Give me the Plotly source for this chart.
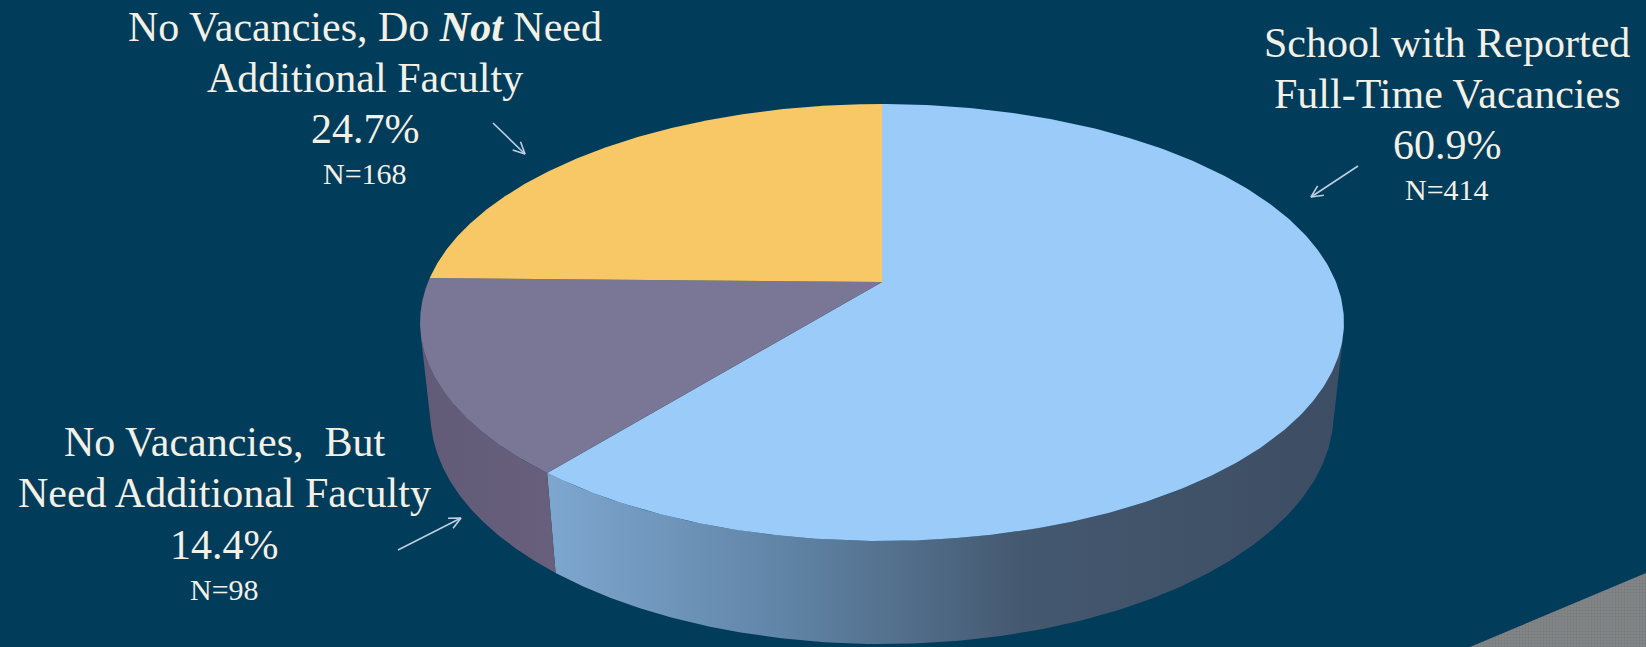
import numpy as np
import plotly.graph_objects as go

# ---------------- data ----------------
categories = [
    "School with Reported Full-Time Vacancies",
    "No Vacancies, But Need Additional Faculty",
    "No Vacancies, Do Not Need Additional Faculty",
]
counts = [414, 98, 168]
label_lines = [
    ["School with Reported", "Full-Time Vacancies"],
    ["No Vacancies,&nbsp; But", "Need Additional Faculty"],
    ["No Vacancies, Do <b><i>Not</i></b> Need", "Additional Faculty"],
]

# ---------------- style ----------------
BG = "#013C5A"
TOP_COLORS = ["#9BCBF9", "#7A7696", "#F9C866"]
SIDE_COLORS = [
    [[0.0, "#7EA7D0"], [0.3, "#6084A6"], [0.6, "#44586F"], [1.0, "#3D4D63"]],
    [[0.0, "#625B77"], [1.0, "#675F7C"]],
    [[0.0, "#C9A24F"], [1.0, "#C9A24F"]],
]
TEXT_COLOR = "#F3F0E6"
ARROW_COLOR = "#BCCFE2"
FONT = "Liberation Serif, Times New Roman, serif"

W, H = 1646, 647
CX, CY = 882.0, 282.0          # pie centre on screen (px)
F = 2169.0                     # focal length (px)
D = 4.778                      # camera distance (pie radius units)
SINB = 0.4647
COSB = np.sqrt(1 - SINB ** 2)
T = 0.229                      # thickness (pie radius units)


def project(theta_deg, depth):
    th = np.radians(theta_deg)
    u, v = np.sin(th), np.cos(th)
    y = -depth
    yc = y * COSB + v * SINB
    zc = -y * SINB + v * COSB + D
    return CX + F * u / zc, CY - F * yc / zc


total = sum(counts)
fracs = [c / total for c in counts]
starts = np.concatenate([[0], np.cumsum(fracs)[:-1]]) * 360
ends = np.cumsum(fracs) * 360

v_lim = -1.0 / (D * COSB)
vis_a = np.degrees(np.arccos(v_lim))
vis_b = 360 - vis_a

fig = go.Figure()

# side walls (visible front part only)
for i in range(len(counts)):
    a, b = max(starts[i], vis_a), min(ends[i], vis_b)
    if b <= a:
        continue
    th = np.linspace(a, b, 200)
    xt, yt = project(th, 0)
    xb, yb = project(th[::-1], T)
    xs = np.concatenate([xt, xb, [xt[0]]])
    ys = np.concatenate([yt, yb, [yt[0]]])
    fig.add_trace(go.Scatter(
        x=xs, y=ys, mode="lines", fill="toself", line=dict(width=0),
        fillgradient=dict(type="horizontal", colorscale=SIDE_COLORS[i],
                          start=float(xs.min()), stop=float(xs.max())),
        hoverinfo="skip", showlegend=False))

# top faces
for i in range(len(counts)):
    th = np.linspace(starts[i], ends[i], 300)
    xt, yt = project(th, 0)
    xs = np.concatenate([[CX], xt, [CX]])
    ys = np.concatenate([[CY], yt, [CY]])
    fig.add_trace(go.Scatter(
        x=xs, y=ys, mode="lines", fill="toself", line=dict(width=0),
        fillcolor=TOP_COLORS[i], name=categories[i],
        text=f"{categories[i]}: {counts[i]}", hoverinfo="text",
        showlegend=False))

# decorative corner band
fig.add_trace(go.Scatter(
    x=[1470, 1646, 1646, 1470], y=[647, 573, 647, 647], mode="lines",
    fill="toself", line=dict(width=0), fillcolor="#7E8285",
    fillpattern=dict(shape=".", fgcolor="#5E7280", bgcolor="#848484",
                     size=3, solidity=0.35),
    hoverinfo="skip", showlegend=False))

# arrows (tail -> head)
arrows = [((1358, 166), (1311, 197)), ((398, 550), (461, 518)), ((493, 123), (525, 154))]
for (x0, y0), (x1, y1) in arrows:
    ang = np.arctan2(y1 - y0, x1 - x0)
    L = 13
    hx = [x1 - L * np.cos(ang - 0.45), x1, x1 - L * np.cos(ang + 0.45)]
    hy = [y1 - L * np.sin(ang - 0.45), y1, y1 - L * np.sin(ang + 0.45)]
    fig.add_trace(go.Scatter(x=[x0, x1, None] + hx, y=[y0, y1, None] + hy,
                             mode="lines", line=dict(color=ARROW_COLOR, width=1.6),
                             hoverinfo="skip", showlegend=False))

# labels
label_pos = [
    (1447, [42.5, 94, 145, 189.5]),
    (224, [441.5, 493, 545, 589.5]),
    (365, [27, 78, 129, 173]),
]
annotations = []
for i, (xc, ys) in enumerate(label_pos):
    lines = label_lines[i] + [f"{fracs[i] * 100:.1f}%"]
    for j, txt in enumerate(lines):
        annotations.append(dict(x=xc, y=ys[j], xref="x", yref="y", text=txt,
                                showarrow=False, xanchor="center", yanchor="middle",
                                font=dict(family=FONT, size=42, color=TEXT_COLOR)))
    annotations.append(dict(x=xc, y=ys[3], xref="x", yref="y", text=f"N={counts[i]}",
                            showarrow=False, xanchor="center", yanchor="middle",
                            font=dict(family=FONT, size=30, color=TEXT_COLOR)))

fig.update_layout(
    width=W, height=H, margin=dict(l=0, r=0, t=0, b=0),
    paper_bgcolor=BG, plot_bgcolor=BG, showlegend=False,
    xaxis=dict(range=[0, W], visible=False, fixedrange=True),
    yaxis=dict(range=[H, 0], visible=False, fixedrange=True),
    annotations=annotations,
)

fig.write_html("out.html")
